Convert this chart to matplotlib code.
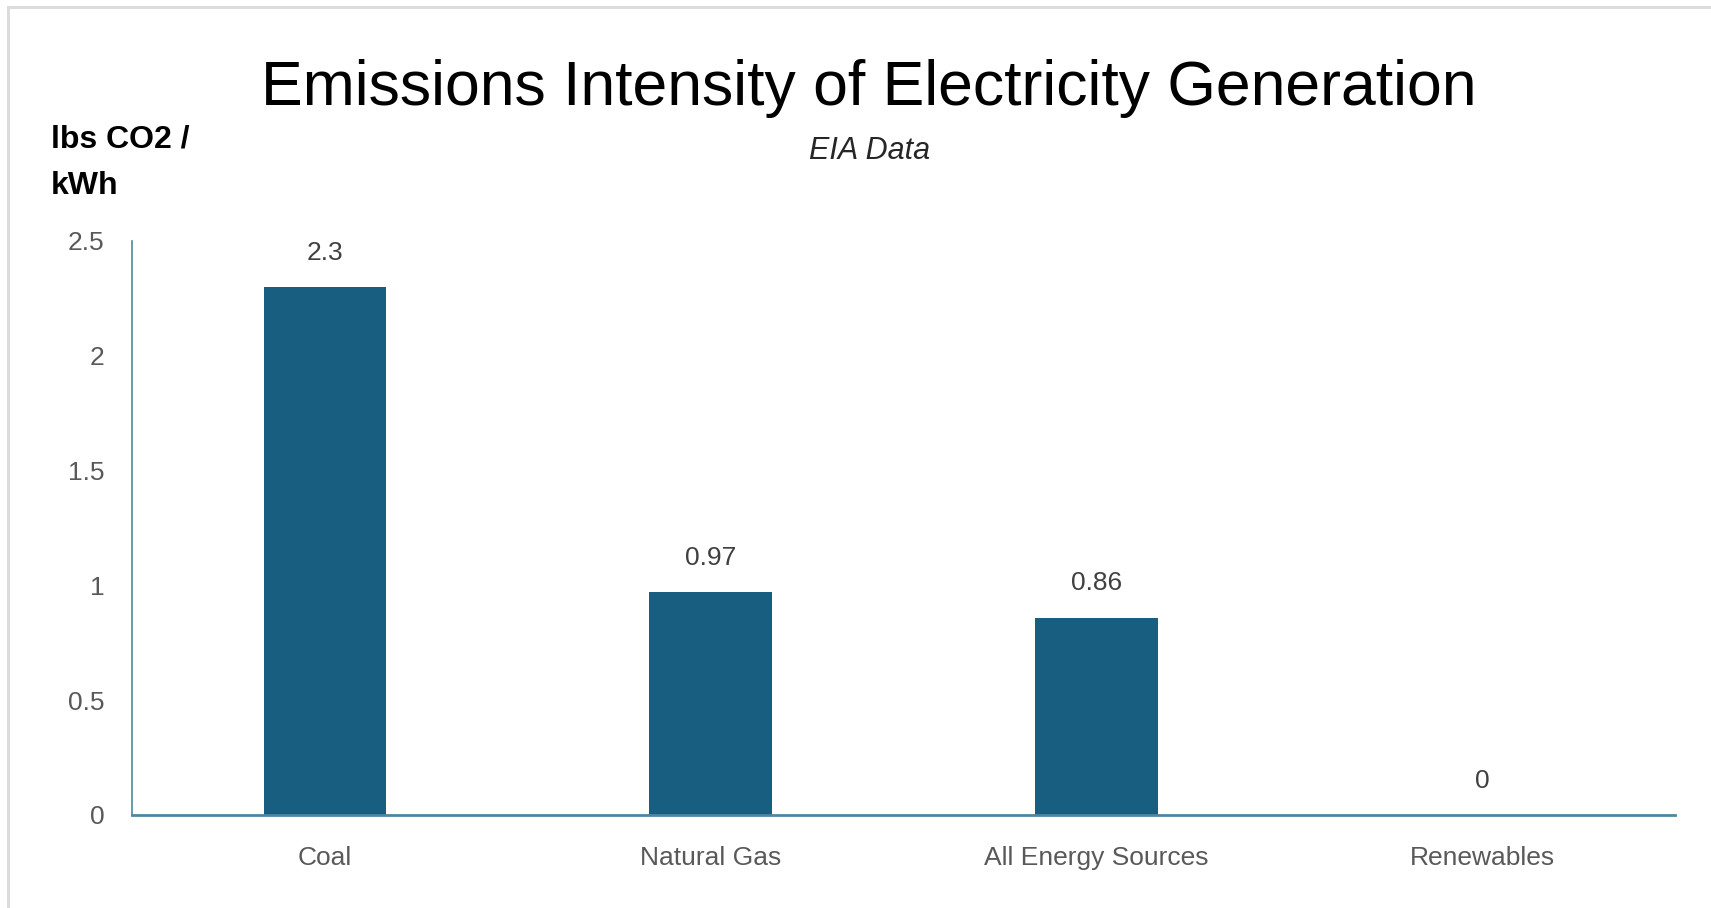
import matplotlib
matplotlib.use('Agg')
import matplotlib.pyplot as plt
from matplotlib.patches import Rectangle

categories = ['Coal', 'Natural Gas', 'All Energy Sources', 'Renewables']
values = [2.3, 0.97, 0.86, 0]
value_labels = ['2.3', '0.97', '0.86', '0']
yticks = [0, 0.5, 1, 1.5, 2, 2.5]
ytick_labels = ['0', '0.5', '1', '1.5', '2', '2.5']

font = 'Liberation Sans'

W, H = 1711, 908
fig = plt.figure(figsize=(W / 100, H / 100), dpi=100)

# light grey frame (only top and left edges show)
fig.patches.append(Rectangle((8 / W, -0.1), 1.2, (H - 7) / H + 0.1,
                             transform=fig.transFigure, fill=False,
                             edgecolor='#dcdcdc', linewidth=2.2))

ax = fig.add_axes([132 / W, 93 / H, 1543 / W, 574 / H])
x = range(len(categories))
bars = ax.bar(x, values, width=0.317, color='#175e80', zorder=2)

ax.set_xlim(-0.5, 3.5)
ax.set_ylim(0, 2.5)
ax.set_yticks(yticks)
ax.set_yticklabels(ytick_labels, fontfamily=font, fontsize=19, color='#595959')
ax.set_xticks(list(x))
ax.set_xticklabels(categories, fontfamily=font, fontsize=19, color='#595959')
ax.tick_params(axis='y', length=0, pad=20)
ax.tick_params(axis='x', length=0, pad=22)

for s in ['top', 'right']:
    ax.spines[s].set_visible(False)
ax.spines['left'].set_color('#4f86a0')
ax.spines['left'].set_linewidth(1.2)
ax.spines['bottom'].set_color('#4f86a0')
ax.spines['bottom'].set_linewidth(2)

for b, lab in zip(bars, value_labels):
    ax.annotate(lab, (b.get_x() + b.get_width() / 2, b.get_height()),
                xytext=(0, 16), textcoords='offset points', ha='center', va='bottom',
                fontfamily=font, fontsize=19, color='#404040')

fig.text(0.508, 0.902, 'Emissions Intensity of Electricity Generation',
         ha='center', va='center', fontsize=45, fontfamily=font, color='#000000')
fig.text(0.508, 0.834, 'EIA Data', ha='center', va='center', fontsize=22,
         fontstyle='italic', fontfamily=font, color='#262626')
fig.text(51 / W, 1 - 124 / H, 'lbs CO2 /\nkWh', ha='left', va='top', fontsize=23,
         fontweight='bold', fontfamily=font, color='#000000', linespacing=1.75)

fig.savefig('out.png', dpi=100, facecolor='white')
